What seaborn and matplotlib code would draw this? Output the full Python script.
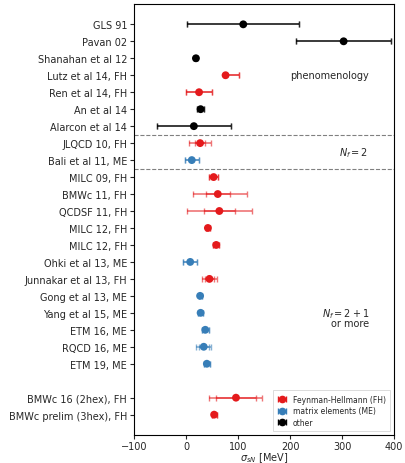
import numpy as np
import pandas as pd
import matplotlib
matplotlib.use("Agg")
import matplotlib.pyplot as plt
import seaborn as sns

labels = ["GLS 91", "Pavan 02", "Shanahan et al 12", "Lutz et al 14, FH", "Ren et al 14, FH",
          "An et al 14", "Alarcon et al 14", "JLQCD 10, FH", "Bali et al 11, ME",
          "MILC 09, FH", "BMWc 11, FH", "QCDSF 11, FH", "MILC 12, FH", "MILC 12, FH",
          "Ohki et al 13, ME", "Junnakar et al 13, FH", "Gong et al 13, ME", "Yang et al 15, ME",
          "ETM 16, ME", "RQCD 16, ME", "ETM 19, ME", "",
          "BMWc 16 (2hex), FH", "BMWc prelim (3hex), FH"]
method = ["other", "other", "other", "FH", "FH", "other", "other", "FH", "ME",
          "FH", "FH", "FH", "FH", "FH", "ME", "FH", "ME", "ME",
          "ME", "ME", "ME", None, "FH", "FH"]
sigma = [110, 303, 19, 76, 25, 28, 15, 27, 11,
         53, 61, 64, 42, 58, 8, 45, 27, 28,
         37, 34, 40, np.nan, 96, 54]
stat_lo = [108, 92, 3, 3, 25, 6, 71, 10, 13,
           8, 23, 30, 4, 6, 14, 8, 3, 5,
           7, 10, 6, np.nan, 39, 5]
stat_hi = [108, 92, 3, 25, 25, 6, 71, 10, 13,
           8, 23, 30, 4, 6, 14, 8, 3, 5,
           7, 10, 6, np.nan, 39, 5]
tot_lo = [108, 92, 3, 3, 25, 6, 71, 21, 13,
          8, 48, 62, 4, 6, 14, 14, 3, 5,
          7, 14, 6, np.nan, 51, 5]
tot_hi = [108, 92, 3, 25, 25, 6, 71, 21, 13,
          8, 57, 62, 4, 6, 14, 14, 3, 5,
          7, 14, 6, np.nan, 50, 5]

colors = {"FH": "#e41a1c", "ME": "#377eb8", "other": "black"}
legend_names = {"FH": "Feynman-Hellmann (FH)", "ME": "matrix elements (ME)", "other": "other"}

df = pd.DataFrame({"label": labels, "method": method, "sigma": sigma,
                   "stat_lo": stat_lo, "stat_hi": stat_hi,
                   "tot_lo": tot_lo, "tot_hi": tot_hi})
df["pos"] = np.arange(len(df))

sns.set_theme(style="ticks")
plt.rcParams["font.family"] = ["DejaVu Sans"]

fig = plt.figure(figsize=(4.05, 4.64), dpi=100)
ax = fig.add_axes([0.331, 0.0603, 0.642, 0.929])

data = df.dropna(subset=["sigma"])
for _, r in data.iterrows():
    c = colors[r["method"]]
    ax.errorbar(r["sigma"], r["pos"], xerr=[[r["tot_lo"]], [r["tot_hi"]]], fmt="none",
                ecolor=c, alpha=0.6, elinewidth=1.2, capsize=2, capthick=1.0, zorder=2)
    ax.errorbar(r["sigma"], r["pos"], xerr=[[r["stat_lo"]], [r["stat_hi"]]], fmt="none",
                ecolor=c, alpha=0.6, elinewidth=1.2, capsize=2, capthick=1.0, zorder=2)

sns.scatterplot(data=data, x="sigma", y="pos", hue="method", palette=colors,
                s=32, edgecolor="none", legend=False, ax=ax, zorder=3)

handles = []
for m in ["FH", "ME", "other"]:
    h = ax.errorbar([np.nan], [np.nan], xerr=[[1]], fmt="o", color=colors[m], ms=4.5,
                    capsize=2, label=legend_names[m], alpha=1)
    handles.append(h)
leg = ax.legend(handles=handles, loc="lower right", fontsize=5.5, frameon=True,
                handlelength=1.2, borderpad=0.6, labelspacing=0.3, fancybox=False)
leg.get_frame().set_edgecolor("#cccccc")
leg.get_frame().set_linewidth(0.6)

for yl in [6.5, 8.5]:
    ax.axhline(yl, color="grey", ls="--", lw=0.8, zorder=1)

ax.text(275, 3, "phenomenology", ha="center", va="center", fontsize=7)
ax.text(323, 7.5, "$N_f = 2$", ha="center", va="center", fontsize=7)
ax.text(352, 17.25, "$N_f = 2 + 1$\nor more", ha="right", va="center", fontsize=7,
        linespacing=0.8)

ax.set_xlim(-100, 400)
ax.set_ylim(len(df) - 1 + 1.2, -1.2)
ax.set_yticks(df["pos"][df["label"] != ""])
ax.set_yticklabels(df["label"][df["label"] != ""])
ax.set_xticks([-100, 0, 100, 200, 300, 400])
ax.tick_params(axis="both", labelsize=7, length=3, width=0.8, pad=2)
ax.tick_params(axis="x", pad=1)
ax.set_xlabel(r"$\sigma_{sN}$ [MeV]", fontsize=7, labelpad=0)
ax.set_ylabel("")
for s in ax.spines.values():
    s.set_visible(True)
    s.set_color("black")
    s.set_linewidth(0.8)

fig.savefig("out.png", dpi=100)
